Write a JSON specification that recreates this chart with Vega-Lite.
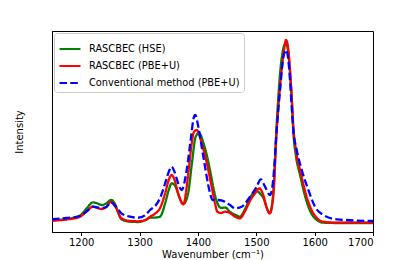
{
  "$schema": "https://vega.github.io/schema/vega-lite/v6.json",
  "width": 321,
  "height": 201,
  "autosize": {"type": "none"},
  "padding": {"left": 52, "top": 31, "right": 42, "bottom": 28},
  "background": "white",
  "config": {
    "view": {"stroke": "#000", "strokeWidth": 1},
    "font": "DejaVu Sans",
    "axis": {"domainColor": "#000", "tickColor": "#000", "labelColor": "#000", "titleColor": "#000", "labelFont": "DejaVu Sans", "titleFont": "DejaVu Sans", "titleFontWeight": "normal", "labelFontSize": 10, "titleFontSize": 10, "grid": false}
  },
  "datasets": {
    "spectra": [
      {"s": "RASCBEC (HSE)", "x": 1150, "y": 12}, {"s": "RASCBEC (HSE)", "x": 1175, "y": 13}, {"s": "RASCBEC (HSE)", "x": 1198, "y": 16.5}, {"s": "RASCBEC (HSE)", "x": 1210, "y": 24}, {"s": "RASCBEC (HSE)", "x": 1220, "y": 29.7}, {"s": "RASCBEC (HSE)", "x": 1228, "y": 28.5}, {"s": "RASCBEC (HSE)", "x": 1235, "y": 27}, {"s": "RASCBEC (HSE)", "x": 1243, "y": 28.5}, {"s": "RASCBEC (HSE)", "x": 1251, "y": 32}, {"s": "RASCBEC (HSE)", "x": 1258, "y": 28}, {"s": "RASCBEC (HSE)", "x": 1263, "y": 20}, {"s": "RASCBEC (HSE)", "x": 1269, "y": 12.7}, {"s": "RASCBEC (HSE)", "x": 1284, "y": 10.3}, {"s": "RASCBEC (HSE)", "x": 1298, "y": 10}, {"s": "RASCBEC (HSE)", "x": 1310, "y": 12}, {"s": "RASCBEC (HSE)", "x": 1318, "y": 14.3}, {"s": "RASCBEC (HSE)", "x": 1328, "y": 14.5}, {"s": "RASCBEC (HSE)", "x": 1335, "y": 15.3}, {"s": "RASCBEC (HSE)", "x": 1344, "y": 29}, {"s": "RASCBEC (HSE)", "x": 1350, "y": 42}, {"s": "RASCBEC (HSE)", "x": 1355, "y": 48.7}, {"s": "RASCBEC (HSE)", "x": 1362, "y": 45}, {"s": "RASCBEC (HSE)", "x": 1368, "y": 35}, {"s": "RASCBEC (HSE)", "x": 1375, "y": 28}, {"s": "RASCBEC (HSE)", "x": 1383, "y": 38}, {"s": "RASCBEC (HSE)", "x": 1390, "y": 70}, {"s": "RASCBEC (HSE)", "x": 1396, "y": 95}, {"s": "RASCBEC (HSE)", "x": 1402, "y": 99}, {"s": "RASCBEC (HSE)", "x": 1410, "y": 88}, {"s": "RASCBEC (HSE)", "x": 1416, "y": 75}, {"s": "RASCBEC (HSE)", "x": 1422, "y": 58}, {"s": "RASCBEC (HSE)", "x": 1428, "y": 40}, {"s": "RASCBEC (HSE)", "x": 1434, "y": 28}, {"s": "RASCBEC (HSE)", "x": 1440, "y": 24}, {"s": "RASCBEC (HSE)", "x": 1447, "y": 24.5}, {"s": "RASCBEC (HSE)", "x": 1455, "y": 20}, {"s": "RASCBEC (HSE)", "x": 1465, "y": 17}, {"s": "RASCBEC (HSE)", "x": 1472, "y": 15.3}, {"s": "RASCBEC (HSE)", "x": 1480, "y": 22}, {"s": "RASCBEC (HSE)", "x": 1490, "y": 35}, {"s": "RASCBEC (HSE)", "x": 1500, "y": 41}, {"s": "RASCBEC (HSE)", "x": 1507, "y": 38}, {"s": "RASCBEC (HSE)", "x": 1513, "y": 33}, {"s": "RASCBEC (HSE)", "x": 1518, "y": 24}, {"s": "RASCBEC (HSE)", "x": 1523, "y": 18.7}, {"s": "RASCBEC (HSE)", "x": 1529, "y": 38}, {"s": "RASCBEC (HSE)", "x": 1535, "y": 108}, {"s": "RASCBEC (HSE)", "x": 1541, "y": 160}, {"s": "RASCBEC (HSE)", "x": 1547, "y": 185}, {"s": "RASCBEC (HSE)", "x": 1551, "y": 189}, {"s": "RASCBEC (HSE)", "x": 1555, "y": 178}, {"s": "RASCBEC (HSE)", "x": 1558, "y": 158}, {"s": "RASCBEC (HSE)", "x": 1561, "y": 130}, {"s": "RASCBEC (HSE)", "x": 1563.5, "y": 100}, {"s": "RASCBEC (HSE)", "x": 1568, "y": 76}, {"s": "RASCBEC (HSE)", "x": 1575, "y": 57}, {"s": "RASCBEC (HSE)", "x": 1586, "y": 31}, {"s": "RASCBEC (HSE)", "x": 1598, "y": 15.3}, {"s": "RASCBEC (HSE)", "x": 1615, "y": 9.3}, {"s": "RASCBEC (HSE)", "x": 1640, "y": 9}, {"s": "RASCBEC (HSE)", "x": 1700, "y": 9},

      {"s": "RASCBEC (PBE+U)", "x": 1150, "y": 11.3}, {"s": "RASCBEC (PBE+U)", "x": 1175, "y": 12.5}, {"s": "RASCBEC (PBE+U)", "x": 1198, "y": 15.3}, {"s": "RASCBEC (PBE+U)", "x": 1210, "y": 21}, {"s": "RASCBEC (PBE+U)", "x": 1220, "y": 25.3}, {"s": "RASCBEC (PBE+U)", "x": 1235, "y": 23}, {"s": "RASCBEC (PBE+U)", "x": 1243, "y": 25}, {"s": "RASCBEC (PBE+U)", "x": 1251, "y": 30.3}, {"s": "RASCBEC (PBE+U)", "x": 1260, "y": 24}, {"s": "RASCBEC (PBE+U)", "x": 1269, "y": 13.7}, {"s": "RASCBEC (PBE+U)", "x": 1284, "y": 11}, {"s": "RASCBEC (PBE+U)", "x": 1298, "y": 10.7}, {"s": "RASCBEC (PBE+U)", "x": 1310, "y": 12}, {"s": "RASCBEC (PBE+U)", "x": 1318, "y": 15.3}, {"s": "RASCBEC (PBE+U)", "x": 1328, "y": 19}, {"s": "RASCBEC (PBE+U)", "x": 1335, "y": 23.7}, {"s": "RASCBEC (PBE+U)", "x": 1344, "y": 39}, {"s": "RASCBEC (PBE+U)", "x": 1350, "y": 52}, {"s": "RASCBEC (PBE+U)", "x": 1355, "y": 57}, {"s": "RASCBEC (PBE+U)", "x": 1360, "y": 52}, {"s": "RASCBEC (PBE+U)", "x": 1366, "y": 39}, {"s": "RASCBEC (PBE+U)", "x": 1375, "y": 27.7}, {"s": "RASCBEC (PBE+U)", "x": 1383.6, "y": 58.7}, {"s": "RASCBEC (PBE+U)", "x": 1389.4, "y": 88.7}, {"s": "RASCBEC (PBE+U)", "x": 1393.3, "y": 100.3}, {"s": "RASCBEC (PBE+U)", "x": 1397.9, "y": 102}, {"s": "RASCBEC (PBE+U)", "x": 1406.5, "y": 88.7}, {"s": "RASCBEC (PBE+U)", "x": 1412.7, "y": 75.3}, {"s": "RASCBEC (PBE+U)", "x": 1419, "y": 58.7}, {"s": "RASCBEC (PBE+U)", "x": 1424.7, "y": 42}, {"s": "RASCBEC (PBE+U)", "x": 1429.3, "y": 28.7}, {"s": "RASCBEC (PBE+U)", "x": 1433.3, "y": 20.3}, {"s": "RASCBEC (PBE+U)", "x": 1440, "y": 19}, {"s": "RASCBEC (PBE+U)", "x": 1446, "y": 20.3}, {"s": "RASCBEC (PBE+U)", "x": 1455, "y": 19}, {"s": "RASCBEC (PBE+U)", "x": 1463, "y": 15.5}, {"s": "RASCBEC (PBE+U)", "x": 1472, "y": 13.7}, {"s": "RASCBEC (PBE+U)", "x": 1480, "y": 20}, {"s": "RASCBEC (PBE+U)", "x": 1490, "y": 32}, {"s": "RASCBEC (PBE+U)", "x": 1498, "y": 38.7}, {"s": "RASCBEC (PBE+U)", "x": 1505, "y": 43.7}, {"s": "RASCBEC (PBE+U)", "x": 1512, "y": 37}, {"s": "RASCBEC (PBE+U)", "x": 1518, "y": 24}, {"s": "RASCBEC (PBE+U)", "x": 1523, "y": 18.7}, {"s": "RASCBEC (PBE+U)", "x": 1529, "y": 35.3}, {"s": "RASCBEC (PBE+U)", "x": 1535, "y": 102}, {"s": "RASCBEC (PBE+U)", "x": 1541.8, "y": 152}, {"s": "RASCBEC (PBE+U)", "x": 1547.6, "y": 182}, {"s": "RASCBEC (PBE+U)", "x": 1551, "y": 192}, {"s": "RASCBEC (PBE+U)", "x": 1555, "y": 182}, {"s": "RASCBEC (PBE+U)", "x": 1557.8, "y": 162}, {"s": "RASCBEC (PBE+U)", "x": 1560.7, "y": 135.3}, {"s": "RASCBEC (PBE+U)", "x": 1563.5, "y": 105.3}, {"s": "RASCBEC (PBE+U)", "x": 1568, "y": 82}, {"s": "RASCBEC (PBE+U)", "x": 1575, "y": 62}, {"s": "RASCBEC (PBE+U)", "x": 1586.4, "y": 35.3}, {"s": "RASCBEC (PBE+U)", "x": 1597.7, "y": 18.7}, {"s": "RASCBEC (PBE+U)", "x": 1615, "y": 10.3}, {"s": "RASCBEC (PBE+U)", "x": 1640, "y": 9.3}, {"s": "RASCBEC (PBE+U)", "x": 1700, "y": 9.3},

      {"s": "Conventional method (PBE+U)", "x": 1150, "y": 12.7}, {"s": "Conventional method (PBE+U)", "x": 1175, "y": 14}, {"s": "Conventional method (PBE+U)", "x": 1198, "y": 16}, {"s": "Conventional method (PBE+U)", "x": 1210, "y": 21}, {"s": "Conventional method (PBE+U)", "x": 1220, "y": 25.3}, {"s": "Conventional method (PBE+U)", "x": 1235, "y": 24}, {"s": "Conventional method (PBE+U)", "x": 1243, "y": 25}, {"s": "Conventional method (PBE+U)", "x": 1251, "y": 29.7}, {"s": "Conventional method (PBE+U)", "x": 1260, "y": 25}, {"s": "Conventional method (PBE+U)", "x": 1269, "y": 18.7}, {"s": "Conventional method (PBE+U)", "x": 1284, "y": 15.3}, {"s": "Conventional method (PBE+U)", "x": 1298, "y": 14.3}, {"s": "Conventional method (PBE+U)", "x": 1310, "y": 17}, {"s": "Conventional method (PBE+U)", "x": 1318, "y": 22}, {"s": "Conventional method (PBE+U)", "x": 1328, "y": 27}, {"s": "Conventional method (PBE+U)", "x": 1335, "y": 33.7}, {"s": "Conventional method (PBE+U)", "x": 1344, "y": 49}, {"s": "Conventional method (PBE+U)", "x": 1350, "y": 60}, {"s": "Conventional method (PBE+U)", "x": 1355, "y": 65.3}, {"s": "Conventional method (PBE+U)", "x": 1360, "y": 60}, {"s": "Conventional method (PBE+U)", "x": 1366, "y": 49}, {"s": "Conventional method (PBE+U)", "x": 1372, "y": 42}, {"s": "Conventional method (PBE+U)", "x": 1380.8, "y": 62}, {"s": "Conventional method (PBE+U)", "x": 1387.6, "y": 92}, {"s": "Conventional method (PBE+U)", "x": 1393.3, "y": 115.3}, {"s": "Conventional method (PBE+U)", "x": 1395.5, "y": 117}, {"s": "Conventional method (PBE+U)", "x": 1400.7, "y": 105.3}, {"s": "Conventional method (PBE+U)", "x": 1406.5, "y": 85.3}, {"s": "Conventional method (PBE+U)", "x": 1412.2, "y": 65.3}, {"s": "Conventional method (PBE+U)", "x": 1419.5, "y": 42}, {"s": "Conventional method (PBE+U)", "x": 1425.3, "y": 32}, {"s": "Conventional method (PBE+U)", "x": 1435, "y": 32}, {"s": "Conventional method (PBE+U)", "x": 1446.4, "y": 30.3}, {"s": "Conventional method (PBE+U)", "x": 1455, "y": 27}, {"s": "Conventional method (PBE+U)", "x": 1463.6, "y": 23.7}, {"s": "Conventional method (PBE+U)", "x": 1475, "y": 25.3}, {"s": "Conventional method (PBE+U)", "x": 1489.3, "y": 35.3}, {"s": "Conventional method (PBE+U)", "x": 1500.8, "y": 45.3}, {"s": "Conventional method (PBE+U)", "x": 1507.6, "y": 52.7}, {"s": "Conventional method (PBE+U)", "x": 1515, "y": 45.3}, {"s": "Conventional method (PBE+U)", "x": 1523.5, "y": 37}, {"s": "Conventional method (PBE+U)", "x": 1529, "y": 52}, {"s": "Conventional method (PBE+U)", "x": 1535, "y": 102}, {"s": "Conventional method (PBE+U)", "x": 1540.7, "y": 142}, {"s": "Conventional method (PBE+U)", "x": 1546.4, "y": 175}, {"s": "Conventional method (PBE+U)", "x": 1551, "y": 182}, {"s": "Conventional method (PBE+U)", "x": 1555, "y": 172}, {"s": "Conventional method (PBE+U)", "x": 1557.8, "y": 152}, {"s": "Conventional method (PBE+U)", "x": 1560.7, "y": 125.3}, {"s": "Conventional method (PBE+U)", "x": 1563.5, "y": 102}, {"s": "Conventional method (PBE+U)", "x": 1569.3, "y": 82}, {"s": "Conventional method (PBE+U)", "x": 1577.9, "y": 62}, {"s": "Conventional method (PBE+U)", "x": 1589.3, "y": 42}, {"s": "Conventional method (PBE+U)", "x": 1600.6, "y": 25.3}, {"s": "Conventional method (PBE+U)", "x": 1615, "y": 17}, {"s": "Conventional method (PBE+U)", "x": 1638, "y": 12.7}, {"s": "Conventional method (PBE+U)", "x": 1700, "y": 11}
    ]
  },
  "data": {"name": "spectra"},
  "mark": {"type": "line", "strokeWidth": 2.3, "interpolate": "monotone", "clip": true},
  "encoding": {
    "x": {
      "field": "x", "type": "quantitative",
      "scale": {"domain": [1150, 1700], "nice": false, "zero": false},
      "axis": {"values": [1200, 1300, 1400, 1500, 1600, 1700], "format": "d", "tickSize": 3.5, "labelPadding": 2, "title": "Wavenumber (cm⁻¹)", "titlePadding": 2}
    },
    "y": {
      "field": "y", "type": "quantitative",
      "scale": {"domain": [0, 201], "nice": false},
      "axis": {"labels": false, "ticks": false, "title": "Intensity", "titlePadding": 28}
    },
    "color": {
      "field": "s", "type": "nominal",
      "scale": {"domain": ["RASCBEC (HSE)", "RASCBEC (PBE+U)", "Conventional method (PBE+U)"], "range": ["#008000", "#ff0000", "#0000ff"]},
      "legend": {"title": null, "orient": "top-left", "offset": 2, "symbolType": "stroke", "symbolSize": 440, "symbolStrokeWidth": 2.2, "labelFontSize": 9.8, "labelFont": "DejaVu Sans", "labelColor": "#000", "labelOffset": 7, "padding": 4, "rowPadding": -7.5, "fillColor": "white", "strokeColor": "#cccccc", "cornerRadius": 3}
    },
    "strokeDash": {
      "field": "s", "type": "nominal",
      "scale": {"domain": ["RASCBEC (HSE)", "RASCBEC (PBE+U)", "Conventional method (PBE+U)"], "range": [[1, 0], [1, 0], [7.5, 3.3]]},
      "legend": null
    }
  }
}
